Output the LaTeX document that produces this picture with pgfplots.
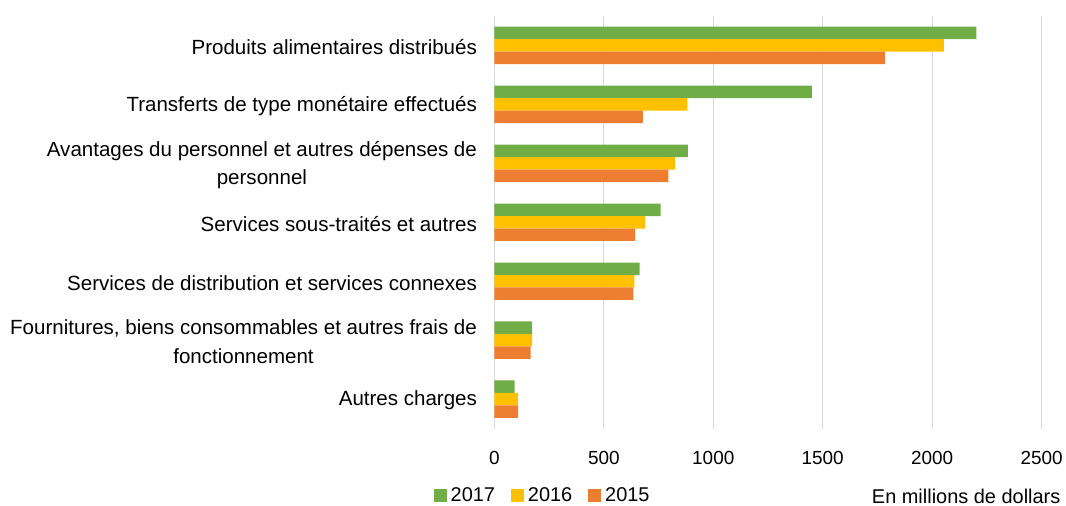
\documentclass[border=0pt]{standalone}
\usepackage{fontspec}
\setmainfont{Liberation Sans}
\usepackage{pgfplots}
\pgfplotsset{compat=1.18}
\definecolor{cgreen}{HTML}{70AD47}
\definecolor{cyellow}{HTML}{FFC000}
\definecolor{corange}{HTML}{ED7D31}
\definecolor{cgrid}{HTML}{D9D9D9}
\begin{document}
\begin{tikzpicture}
\begin{axis}[
  scale only axis, width=549pt, height=414pt,
  xbar, bar width=12.5pt,
  xmin=0, xmax=2500,
  ymin=-0.5, ymax=6.5, y dir=reverse,
  ytick={0,1,2,3,4,5,6},
  yticklabels={
    {Produits alimentaires distribués},
    {Transferts de type monétaire effectués},
    {Avantages du personnel et autres dépenses de\\personnel},
    {Services sous-traités et autres},
    {Services de distribution et services connexes},
    {Fournitures, biens consommables et autres frais de\\fonctionnement},
    {Autres charges}},
  yticklabel style={align=center, font=\fontsize{20.6}{28.5}\selectfont, xshift=-14pt, yshift=-1.5pt},
  xtick={0,500,1000,1500,2000,2500},
  xmajorgrids, ymajorgrids=false,
  grid style={draw=cgrid, line width=1pt},
  axis line style={draw=none}, major tick length=0pt,
  xticklabel style={font=\fontsize{19}{22}\selectfont, yshift=-19pt},
  /pgf/number format/assume math mode=true,
  scaled x ticks=false, xticklabel style={/pgf/number format/1000 sep={}},
  clip=false,
  legend columns=3,
  legend style={at={(axis description cs:0,0)}, anchor=west, xshift=-61pt, yshift=-67pt,
    draw=none, font=\fontsize{20}{24}\selectfont, inner sep=0pt,
    /tikz/every even column/.append style={column sep=14pt},
    /tikz/every odd column/.append style={column sep=2pt}},
]
\addplot[draw=none, fill=cgreen, bar shift=12.5pt,
  legend image code/.code={\fill[cgreen] (0pt,-6.5pt) rectangle (13pt,6.5pt);}]
  coordinates {(2202,0) (1450,1) (884,2) (760,3) (663,4) (172,5) (92,6)};
\addplot[draw=none, fill=cyellow, bar shift=0pt,
  legend image code/.code={\fill[cyellow] (0pt,-6.5pt) rectangle (13pt,6.5pt);}]
  coordinates {(2054,0) (882,1) (826,2) (689,3) (640,4) (172,5) (108,6)};
\addplot[draw=none, fill=corange, bar shift=-12.5pt,
  legend image code/.code={\fill[corange] (0pt,-6.5pt) rectangle (13pt,6.5pt);}]
  coordinates {(1784,0) (678,1) (795,2) (643,3) (635,4) (165,5) (108,6)};
\legend{2017,2016,2015}
\node[anchor=east, inner sep=0pt, font=\fontsize{20}{24}\selectfont] at ([xshift=19pt,yshift=-68pt]axis description cs:1,0) {En millions de dollars};
\path (axis description cs:0,0) ++(-496pt,-76pt) rectangle ++(1066pt,506pt);
\end{axis}
\end{tikzpicture}
\end{document}
